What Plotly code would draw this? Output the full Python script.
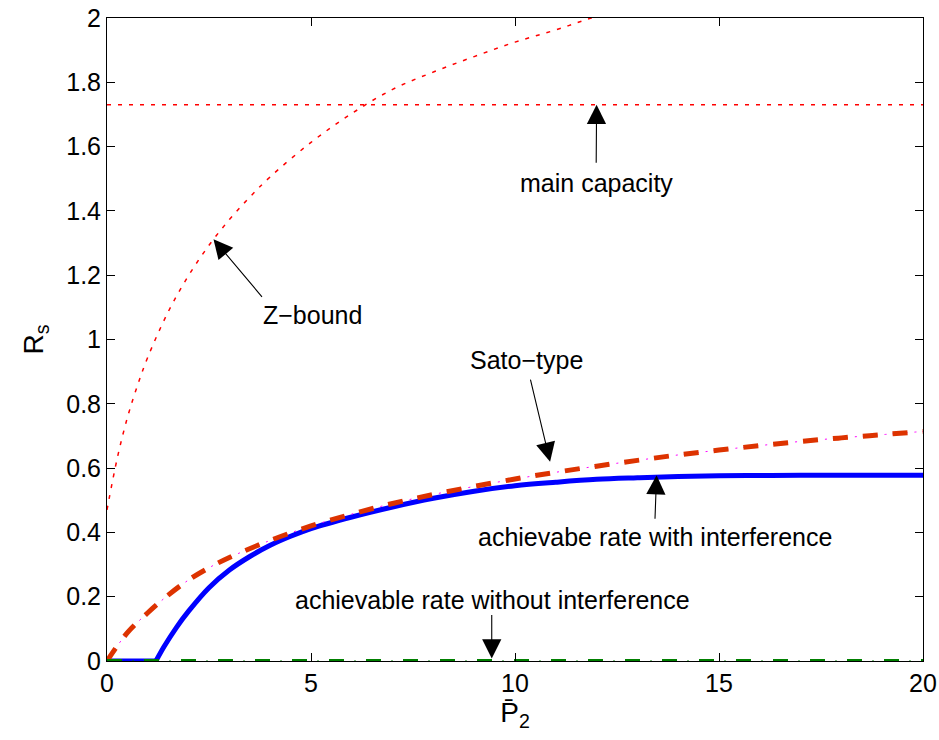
import plotly.graph_objects as go

# ---- data ----
z_x = [0, 0.25, 0.5, 0.75, 1, 1.5, 2, 2.5, 3, 3.5, 4, 5, 6, 7, 8, 9, 10, 11, 12, 14, 17, 20]
z_y = [0.47, 0.63, 0.757, 0.858, 0.945, 1.086, 1.199, 1.293, 1.373, 1.443, 1.506, 1.613, 1.703, 1.778,
       1.832, 1.88, 1.925, 1.963, 2.005, 2.07, 2.16, 2.24]

main_x = [0, 20]
main_y = [1.73, 1.73]

sato_x = [0, 0.5, 1, 1.5, 2, 2.5, 3, 4, 5, 6, 7, 8, 9, 10, 11, 12, 13, 14, 15, 16, 17, 18, 19, 20]
sato_y = [0, 0.088, 0.15, 0.205, 0.252, 0.29, 0.322, 0.375, 0.42, 0.457, 0.49, 0.518, 0.543, 0.566,
          0.587, 0.606, 0.624, 0.641, 0.656, 0.67, 0.683, 0.694, 0.704, 0.714]

with_x = [0, 1.2, 1.4, 1.7, 2, 2.5, 3, 3.5, 4, 4.5, 5, 6, 7, 8, 9, 10, 11, 12, 13, 14, 15, 16, 17, 18, 19, 20]
with_y = [0, 0, 0.045, 0.104, 0.155, 0.228, 0.283, 0.325, 0.36, 0.388, 0.412, 0.448, 0.479, 0.506, 0.528,
          0.545, 0.556, 0.565, 0.570, 0.574, 0.576, 0.577, 0.578, 0.578, 0.578, 0.578]

without_x = [0, 20]
without_y = [0, 0]

x_ticks = [0, 5, 10, 15, 20]
y_ticks = [0, 0.2, 0.4, 0.6, 0.8, 1, 1.2, 1.4, 1.6, 1.8, 2]
y_tick_text = ["0", "0.2", "0.4", "0.6", "0.8", "1", "1.2", "1.4", "1.6", "1.8", "2"]

FONT = "Liberation Sans, Arial, Helvetica, sans-serif"
FS = 25

fig = go.Figure()
fig.add_trace(go.Scatter(x=z_x, y=z_y, mode="lines", line=dict(color="#ff0000", width=1.5, dash="4px,7px"),
                         line_shape="spline", hoverinfo="skip"))
fig.add_trace(go.Scatter(x=main_x, y=main_y, mode="lines", line=dict(color="#ff0000", width=1.5, dash="4px,7px"),
                         hoverinfo="skip"))
# blue: flat part then rising part
k = with_y.index(0, 1)  # index of kink (last zero)
fig.add_trace(go.Scatter(x=with_x[:k + 1], y=with_y[:k + 1], mode="lines", line=dict(color="#0000ff", width=5),
                         hoverinfo="skip"))
fig.add_trace(go.Scatter(x=with_x[k:], y=with_y[k:], mode="lines", line=dict(color="#0000ff", width=5),
                         line_shape="spline", hoverinfo="skip"))
fig.add_trace(go.Scatter(x=sato_x, y=sato_y, mode="lines", line=dict(color="#ff00ff", width=1, dash="15px,7px,2px,6px"),
                         line_shape="spline", hoverinfo="skip"))
fig.add_trace(go.Scatter(x=sato_x, y=sato_y, mode="lines", line=dict(color="#dd3300", width=5, dash="15px,15px"),
                         line_shape="spline", hoverinfo="skip"))
fig.add_trace(go.Scatter(x=without_x, y=without_y, mode="lines", line=dict(color="#008000", width=1, dash="15px,10px,2px,10px"),
                         hoverinfo="skip"))
fig.add_trace(go.Scatter(x=without_x, y=without_y, mode="lines", line=dict(color="#008000", width=4, dash="15px,22px"),
                         hoverinfo="skip"))

labels = [
    ("main capacity", 11.99, 1.487, 11.99, 1.545, 12.0, 1.73),
    ("Z\u2212bound", 5.04, 1.076, 3.83, 1.128, 2.61, 1.312),
    ("Sato\u2212type", 10.27, 0.936, 10.37, 0.88, 10.86, 0.62),
    ("achievabe rate with interference", 13.44, 0.386, 13.43, 0.438, 13.47, 0.578),
    ("achievable rate without interference", 9.45, 0.19, 9.43, 0.148, 9.43, 0.008),
]
for text, tx, ty, axx, ayy, hx, hy in labels:
    fig.add_annotation(x=tx, y=ty, text=text, showarrow=False, font=dict(family=FONT, size=FS, color="black"),
                       xanchor="center", yanchor="middle")
    fig.add_annotation(x=hx, y=hy, ax=axx, ay=ayy, axref="x", ayref="y", text="", showarrow=True,
                       arrowhead=2, arrowsize=3.5, arrowwidth=1.1, arrowcolor="black")

fig.update_layout(
    template="none",
    width=939, height=740,
    margin=dict(l=107, r=16, t=18, b=79, autoexpand=False),
    paper_bgcolor="white", plot_bgcolor="white",
    showlegend=False,
    font=dict(family=FONT, size=FS, color="black"),
    xaxis=dict(range=[0, 20], tickvals=x_ticks, ticks="inside", ticklen=8, tickcolor="black", tickwidth=1,
               showline=True, linecolor="black", linewidth=1, mirror="ticks", showgrid=False, zeroline=False,
               automargin=False, tickfont=dict(size=FS), ticklabeloverflow="allow",
               title=dict(text="P\u0304<sub>2</sub>", font=dict(size=28), standoff=6)),
    yaxis=dict(range=[0, 2], tickvals=y_ticks, ticktext=y_tick_text, ticks="inside", ticklen=8, tickcolor="black",
               tickwidth=1, showline=True, linecolor="black", linewidth=1, mirror="ticks", showgrid=False,
               zeroline=False, automargin=False, tickfont=dict(size=FS), ticklabeloverflow="allow",
               title=dict(text="R<sub>s</sub>", font=dict(size=28), standoff=14)),
)
# remove the browser's default 8px page margin so the figure fills the window exactly
fig.write_html("out.html", config={"displayModeBar": False},
               post_script="document.body.style.margin='0';document.body.style.overflow='hidden';")
